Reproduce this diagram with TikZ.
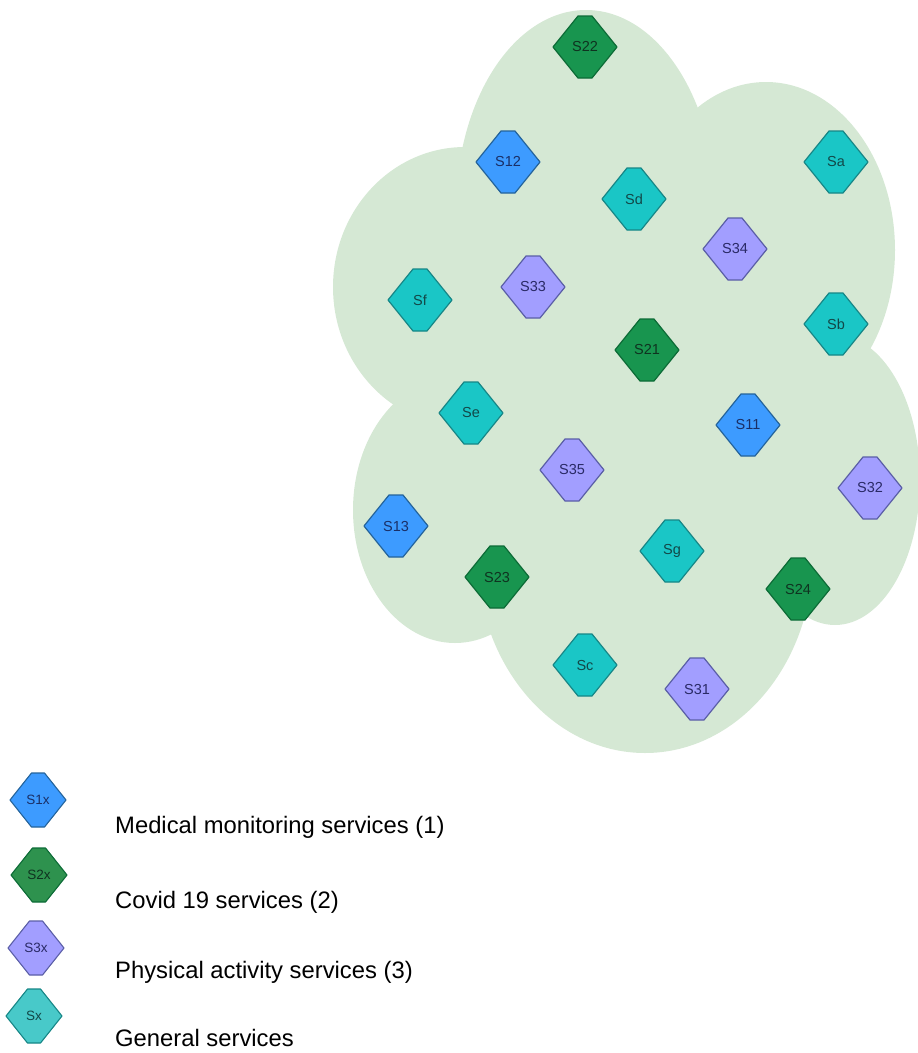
\documentclass[tikz,border=0pt]{standalone}
\usepackage{fontspec}
\setmainfont{Liberation Sans}
\definecolor{cloudfill}{HTML}{D5E8D4}
\definecolor{bluefill}{HTML}{3D9BFF}
\definecolor{bluedraw}{HTML}{24639A}
\definecolor{bluetext}{HTML}{1A2F66}
\definecolor{greenfill}{HTML}{18954F}
\definecolor{lgreenfill}{HTML}{2E924E}
\definecolor{greendraw}{HTML}{0C6B36}
\definecolor{greentext}{HTML}{0F3320}
\definecolor{purplefill}{HTML}{A29EFF}
\definecolor{purpledraw}{HTML}{5A5EA6}
\definecolor{purpletext}{HTML}{2A2A66}
\definecolor{tealfill}{HTML}{1AC6C6}
\definecolor{ltealfill}{HTML}{48C9C9}
\definecolor{tealdraw}{HTML}{168686}
\definecolor{tealtext}{HTML}{124848}
\tikzset{
  kindblue/.style={fill=bluefill, draw=bluedraw, line width=1.2pt, line join=round},
  kindgreen/.style={fill=greenfill, draw=greendraw, line width=1.2pt, line join=round},
  kindpurple/.style={fill=purplefill, draw=purpledraw, line width=1.2pt, line join=round},
  kindteal/.style={fill=tealfill, draw=tealdraw, line width=1.2pt, line join=round},
  legblue/.style={fill=bluefill, draw=bluedraw, line width=1.1pt, line join=round},
  leggreen/.style={fill=lgreenfill, draw=greendraw, line width=1.1pt, line join=round},
  legpurple/.style={fill=purplefill, draw=purpledraw, line width=1.1pt, line join=round},
  legteal/.style={fill=ltealfill, draw=tealdraw, line width=1.1pt, line join=round},
  svclabel/.style={font=\fontsize{14.5}{16}\selectfont, inner sep=0pt},
  leglabel/.style={font=\fontsize{13.5}{15}\selectfont, inner sep=0pt},
  legtext/.style={font=\fontsize{23.8}{28}\selectfont, inner sep=0pt, anchor=west, text=black},
  cloudpart/.style={fill=cloudfill}
}
% #1 name, #2 x, #3 y, #4 kind, #5 label
\newcommand{\svcnode}[5]{%
  \path[kind#4, shift={(#2,#3)}] (-7,-31) -- (7,-31) -- (32,0) -- (7,31) -- (-7,31) -- (-32,0) -- cycle;
  \node[svclabel, text=#4text] (#1) at (#2,#3) {#5};
}
\newcommand{\legnode}[5]{%
  \path[leg#4, shift={(#2,#3)}] (-6.5,-27) -- (6.5,-27) -- (28,0) -- (6.5,27) -- (-6.5,27) -- (-28,0) -- cycle;
  \node[leglabel, text=#4text] (#1) at (#2,#3) {#5};
}
\begin{document}
\begin{tikzpicture}[x=1pt, y=-1pt]
\useasboundingbox (0,0) rectangle (918,1053);
% cloud made of overlapping lobes
\fill[cloudpart] (586,210) ellipse [x radius=130pt, y radius=200pt];
\fill[cloudpart] (766,250) ellipse [x radius=129pt, y radius=168pt];
\fill[cloudpart] (465,287) ellipse [x radius=132pt, y radius=140pt];
\fill[cloudpart] (455,510) ellipse [x radius=102pt, y radius=133pt];
\fill[cloudpart] (645,555) ellipse [x radius=168pt, y radius=198pt];
\fill[cloudpart] (835,480) ellipse [x radius=85pt, y radius=145pt];
\fill[cloudpart] (640,390) ellipse [x radius=230pt, y radius=230pt];
% services
\svcnode{S22}{585}{47}{green}{S22}
\svcnode{S12}{508}{162}{blue}{S12}
\svcnode{Sd}{634}{199}{teal}{Sd}
\svcnode{Sa}{836}{162}{teal}{Sa}
\svcnode{S34}{735}{249}{purple}{S34}
\svcnode{S33}{533}{287}{purple}{S33}
\svcnode{Sf}{420}{300}{teal}{Sf}
\svcnode{Sb}{836}{324}{teal}{Sb}
\svcnode{S21}{647}{350}{green}{S21}
\svcnode{Se}{471}{413}{teal}{Se}
\svcnode{S11}{748}{425}{blue}{S11}
\svcnode{S35}{572}{470}{purple}{S35}
\svcnode{S32}{870}{488}{purple}{S32}
\svcnode{S13}{396}{526}{blue}{S13}
\svcnode{Sg}{672}{551}{teal}{Sg}
\svcnode{S23}{497}{577}{green}{S23}
\svcnode{S24}{798}{589}{green}{S24}
\svcnode{Sc}{585}{665}{teal}{Sc}
\svcnode{S31}{697}{689}{purple}{S31}
% legend
\legnode{L1}{38}{800}{blue}{S1x}
\legnode{L2}{39}{875}{green}{S2x}
\legnode{L3}{36}{948}{purple}{S3x}
\legnode{L4}{34}{1016}{teal}{Sx}
\node[legtext] (T1) at (115,827) {Medical monitoring services (1)};
\node[legtext] (T2) at (115,902) {Covid 19 services (2)};
\node[legtext] (T3) at (115,972) {Physical activity services (3)};
\node[legtext] (T4) at (115,1038) {General services};
\end{tikzpicture}
\end{document}
